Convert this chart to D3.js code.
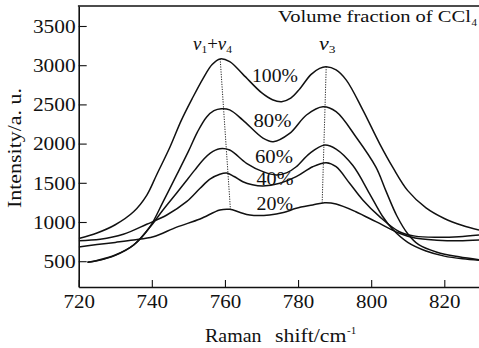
<!DOCTYPE html>
<html>
<head>
<meta charset="utf-8">
<script src="https://cdn.jsdelivr.net/npm/d3@7"></script>
<style>
  html, body { margin: 0; padding: 0; background: #fff; }
  svg { display: block; }
</style>
</head>
<body>
<svg id="chart" width="479" height="348"></svg>
<script>
// Raman spectra of CCl4 solutions: wavenumber (cm^-1) and intensity (a.u.)
const shift100 = [720, 725, 730, 735, 738.6, 741.3, 745, 748, 751, 754, 756.5, 758.7, 761.3, 765, 770, 773, 775.5, 778, 780.5, 783.5, 785.9, 787.7, 790.4, 793.2, 797.7, 802.3, 806, 810, 815, 820, 825, 829.5];
const int100   = [790, 860, 965, 1130, 1340, 1600, 1960, 2290, 2570, 2830, 3010, 3080, 3045, 2880, 2650, 2560, 2535, 2580, 2700, 2880, 2960, 2980, 2940, 2810, 2430, 2000, 1690, 1400, 1180, 1045, 955, 898];

const shift80 = [722.4, 725, 730, 735, 739.5, 743, 746.8, 750, 752.5, 755, 757, 759, 761.3, 764.9, 770.4, 773.2, 777.7, 782.3, 786.8, 790.4, 795.8, 801.3, 804, 807, 810, 813, 818, 824, 829.5];
const int80   = [486, 510, 580, 707, 940, 1250, 1600, 1900, 2150, 2340, 2420, 2445, 2430, 2300, 2070, 2025, 2130, 2365, 2470, 2407, 2088, 1700, 1400, 1080, 850, 710, 615, 557, 520];

const shift60 = [722.4, 725, 730, 735, 739.5, 743, 746.8, 749.5, 751.8, 754, 756, 758.6, 761.3, 765.9, 770.4, 774.1, 777, 779.5, 783.2, 787.3, 790.4, 795, 799.5, 803, 806, 810, 815, 820, 825, 829.5];
const int60   = [486, 505, 575, 705, 935, 1150, 1370, 1530, 1665, 1790, 1880, 1935, 1918, 1749, 1642, 1600, 1630, 1705, 1876, 1982, 1930, 1720, 1366, 1080, 900, 740, 630, 565, 530, 512];

const shift40 = [720, 725.9, 732.2, 738.6, 744.1, 749.5, 753.2, 756, 758.6, 760.5, 762.5, 764.9, 767.5, 770.4, 775, 779.5, 784, 787.7, 790.4, 794.1, 797.7, 802.3, 807.7, 812, 818, 824, 829.5];
const int40   = [761, 779, 843, 971, 1089, 1259, 1430, 1550, 1610, 1625, 1580, 1514, 1475, 1459, 1494, 1578, 1705, 1756, 1705, 1494, 1281, 1068, 876, 820, 805, 812, 834];

const shift20 = [720, 725, 730, 735, 740.4, 746.8, 753.2, 758.6, 761.3, 764, 766.8, 772.2, 776, 779.5, 784, 787.3, 790.4, 795.8, 801.3, 807.7, 812, 818, 824, 829.5];
const int20   = [681, 712, 740, 770, 812, 935, 1038, 1153, 1162, 1125, 1089, 1089, 1120, 1175, 1217, 1246, 1230, 1131, 1004, 856, 795, 768, 760, 770];

const seriesNames = ["100%", "80%", "60%", "40%", "20%"];

// Peak-tracking guide lines: [shift, intensity] from the 100% peak down to the 20% peak
const bandNu14 = [[758.7, 3080], [761.5, 1160]];
const bandNu3  = [[787.7, 2981], [786.6, 1246]];

const xTicks = [720, 740, 760, 780, 800, 820];
const yTicks = [500, 1000, 1500, 2000, 2500, 3000, 3500];

const series = [
  { name: seriesNames[0], xs: shift100, ys: int100 },
  { name: seriesNames[1], xs: shift80,  ys: int80 },
  { name: seriesNames[2], xs: shift60,  ys: int60 },
  { name: seriesNames[3], xs: shift40,  ys: int40 },
  { name: seriesNames[4], xs: shift20,  ys: int20 }
];

const SERIF = '"Liberation Serif", "Times New Roman", serif';
const svg = d3.select("#chart").style("font-family", SERIF);

// widen a label horizontally so that it spans `width` pixels
function widen(sel, widthFn, extra) {
  sel.each(function (d, i) {
    const t = d3.select(this);
    const natural = this.getComputedTextLength();
    const s = widthFn(d, i) / natural;
    const x0 = +t.attr("x") || 0, y0 = +t.attr("y") || 0;
    const pre = extra || "";
    t.attr("x", 0).attr("y", 0)
     .attr("transform", `${pre} translate(${x0},${y0}) scale(${s},1)`);
  });
}

const x = d3.scaleLinear().domain([720, 829.6]).range([78.7, 479.4]);
const y = d3.scaleLinear().domain([171, 3755]).range([287, 6]);

// clip the spectra to the plotting region
svg.append("defs").append("clipPath").attr("id", "plotClip")
  .append("rect")
  .attr("x", x(720)).attr("y", y(3755))
  .attr("width", x(829.6) - x(720)).attr("height", y(171) - y(3755));

const line = d3.line()
  .x(d => x(d[0]))
  .y(d => y(d[1]))
  .curve(d3.curveCatmullRom.alpha(0.5));

const plot = svg.append("g").attr("clip-path", "url(#plotClip)");

plot.selectAll("path.spectrum")
  .data(series)
  .join("path")
  .attr("class", "spectrum")
  .attr("d", s => line(s.xs.map((v, i) => [v, s.ys[i]])))
  .attr("fill", "none")
  .attr("stroke", "#111")
  .attr("stroke-width", 1.5)
  .attr("stroke-linejoin", "round");

// dotted guides through the band maxima
const guide = d3.line().x(d => x(d[0])).y(d => y(d[1]));
[bandNu14, bandNu3].forEach(pts => {
  plot.append("path")
    .attr("d", guide(pts))
    .attr("fill", "none")
    .attr("stroke", "#222")
    .attr("stroke-width", 1)
    .attr("stroke-dasharray", "1.2,1.3");
});

// axes with inward ticks
const xAxis = d3.axisBottom(x).tickValues(xTicks).tickFormat(d3.format("d"))
  .tickSizeInner(-7).tickSizeOuter(0).tickPadding(8);
const gx = svg.append("g").attr("transform", `translate(0,${y(171)})`).call(xAxis);

const yAxis = d3.axisLeft(y).tickValues(yTicks).tickFormat(d3.format("d"))
  .tickSizeInner(-8).tickSizeOuter(0).tickPadding(3);
const gy = svg.append("g").attr("transform", `translate(${x(720)},0)`).call(yAxis);

[gx, gy].forEach(g => {
  g.attr("font-family", SERIF).attr("font-size", 18.5);
  g.select(".domain").attr("stroke", "#111").attr("stroke-width", 1.6);
  g.selectAll(".tick line").attr("stroke", "#111").attr("stroke-width", 1.1);
  g.selectAll(".tick text").attr("fill", "#111");
});
gy.selectAll(".tick text").attr("dy", "0.34em");
gx.selectAll(".tick text").attr("dy", "0.71em");
widen(gy.selectAll(".tick text"), d => String(d).length * 10.7);
widen(gx.selectAll(".tick text"), d => String(d).length * 10.5);

// top frame line
svg.append("line")
  .attr("x1", x(720) - 0.8).attr("x2", x(829.6))
  .attr("y1", y(3755)).attr("y2", y(3755))
  .attr("stroke", "#111").attr("stroke-width", 1.6);

// concentration labels
const labelPos = [
  { x: 252, y: 81.7, w: 46 },
  { x: 253.5, y: 127.3, w: 38 },
  { x: 255, y: 163.3, w: 38 },
  { x: 256.5, y: 185, w: 37 },
  { x: 256.5, y: 210, w: 36.5 }
];
const conc = svg.selectAll("text.conc")
  .data(series)
  .join("text")
  .attr("class", "conc")
  .attr("x", (d, i) => labelPos[i].x)
  .attr("y", (d, i) => labelPos[i].y)
  .attr("font-size", 18)
  .attr("fill", "#111")
  .text(d => d.name);
widen(conc, (d, i) => labelPos[i].w);

// legend title
const title = svg.append("text")
  .attr("x", 278).attr("y", 22)
  .attr("font-size", 17).attr("fill", "#111")
  .text("Volume fraction of CCl");
widen(title, () => 193);
svg.append("text")
  .attr("x", 471.5).attr("y", 25.5)
  .attr("font-size", 11).attr("fill", "#111")
  .text("4");

// band assignments
const nu14 = svg.append("text").attr("x", 193).attr("y", 50).attr("font-size", 18).attr("fill", "#111");
nu14.append("tspan").attr("font-style", "italic").text("v");
nu14.append("tspan").attr("font-size", 11).attr("dy", 3).text("1");
nu14.append("tspan").attr("dy", -3).text("+");
nu14.append("tspan").attr("font-style", "italic").text("v");
nu14.append("tspan").attr("font-size", 11).attr("dy", 3).text("4");
widen(nu14, () => 39);

const nu3 = svg.append("text").attr("x", 319).attr("y", 50).attr("font-size", 18).attr("fill", "#111");
nu3.append("tspan").attr("font-style", "italic").text("v");
nu3.append("tspan").attr("font-size", 11).attr("dy", 3).text("3");
widen(nu3, () => 16.5);

// axis titles
const raman = svg.append("text")
  .attr("x", 205).attr("y", 341.5)
  .attr("font-size", 18.5).attr("fill", "#111")
  .text("Raman");
widen(raman, () => 56.5);
const shiftLbl = svg.append("text")
  .attr("x", 275).attr("y", 341.5)
  .attr("font-size", 18.5).attr("fill", "#111")
  .text("shift/cm");
widen(shiftLbl, () => 71.5);
svg.append("text")
  .attr("x", 347).attr("y", 333.5)
  .attr("font-size", 11).attr("fill", "#111")
  .text("-1");

const yTitle = svg.append("text")
  .attr("font-size", 19).attr("fill", "#111")
  .text("Intensity/a. u.");
widen(yTitle, () => 120, "translate(21,208) rotate(-90)");
</script>
</body>
</html>
